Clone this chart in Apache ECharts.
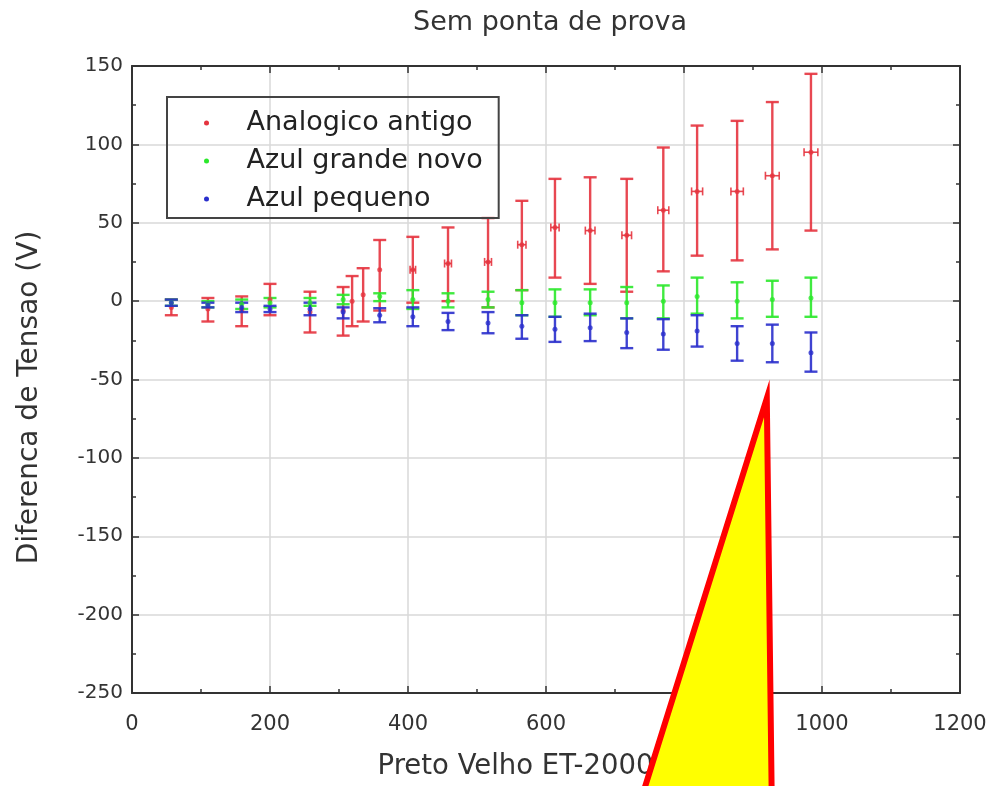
<!DOCTYPE html>
<html>
<head>
<meta charset="utf-8">
<script src="https://cdn.jsdelivr.net/npm/echarts@6/dist/echarts.min.js"></script>
<style>
  html, body { margin: 0; padding: 0; background: #fff; }
  #chart { width: 998px; height: 786px; }
</style>
</head>
<body>
<div id="chart"></div>
<script>
// series names
const seriesNames = ['Analogico antigo', 'Azul grande novo', 'Azul pequeno'];

// Analogico antigo (red): x, y, lower end, upper end, horizontal error
const redX    = [57, 110, 159, 200, 258, 306, 319, 335, 359, 407, 458, 516, 565, 613, 664, 717, 770, 819, 877, 928, 984];
const redY    = [-4, -5, -6, 1, -7, -6, 0, 4, 20, 20, 24, 25, 36, 47, 45, 42, 58, 70, 70, 80, 95];
const redLow  = [-9, -13, -16, -9, -20, -22, -16, -13, -6, -1, 0, -4, 7, 15, 11, 6, 19, 29, 26, 33, 45];
const redHigh = [1, 2, 3, 11, 6, 9, 16, 21, 39, 41, 47, 53, 64, 78, 79, 78, 98, 112, 115, 127, 145];
const redXErr = [0, 0, 0, 0, 0, 0, 0, 0, 0, 4, 5, 5, 6, 6, 7, 7, 8, 8, 9, 10, 10];

// Azul grande novo (green)
const greenX    = [57, 110, 159, 200, 258, 306, 359, 407, 458, 516, 565, 613, 664, 717, 770, 819, 877, 928, 984];
const greenY    = [-1, -2, -2, -1, -1, 1, 3, 1, 0, 1, -1, -1, -1, -1, 0, 3, 0, 1, 2];
const greenLow  = [-3, -4, -5, -4, -3, -2, 0, -5, -4, -4, -9, -10, -9, -11, -11, -8, -11, -10, -10];
const greenHigh = [1, 0, 1, 2, 2, 4, 5, 7, 5, 6, 7, 7.5, 7.5, 9, 10, 15, 12, 13, 15];

// Azul pequeno (blue)
const blueX    = [57, 110, 159, 200, 258, 306, 359, 407, 458, 516, 565, 613, 664, 717, 770, 819, 877, 928, 984];
const blueY    = [-1, -2.5, -4, -5, -5, -7, -9, -10, -13, -14, -16, -18, -17, -20, -21, -19, -27, -27, -33];
const blueLow  = [-3, -4, -7, -7, -9, -11, -13.5, -16, -18.5, -20.5, -24, -26, -25.5, -30, -31, -29, -38, -39, -45];
const blueHigh = [1, -1, -1, -3, -1, -4, -4.5, -4, -7.5, -7, -9, -10, -8, -11, -11.5, -9, -16, -15, -20];

// yellow pointer annotation, in data units (tip, base left, base right)
const pointerShape = [[920, -62], [742, -312], [927, -312]];

const colors = ['#e5343f', '#2be82b', '#2a2fcc'];
const fontFam = 'DejaVu Sans';

function rows(xs, ys, lo, hi, xe) {
  return xs.map((x, i) => [x, ys[i], lo[i], hi[i], xe ? xe[i] : 0]);
}

function errorBars(color) {
  return function (params, api) {
    const x = api.value(0), y = api.value(1);
    const lo = api.coord([x, api.value(2)]);
    const hi = api.coord([x, api.value(3)]);
    const xe = api.value(4);
    const cap = 6.5;
    const style = { stroke: color, lineWidth: 2.4, fill: null, opacity: 0.9 };
    const kids = [
      { type: 'line', shape: { x1: lo[0], y1: lo[1], x2: hi[0], y2: hi[1] }, style: style },
      { type: 'line', shape: { x1: lo[0] - cap, y1: lo[1], x2: lo[0] + cap, y2: lo[1] }, style: style },
      { type: 'line', shape: { x1: hi[0] - cap, y1: hi[1], x2: hi[0] + cap, y2: hi[1] }, style: style }
    ];
    if (xe) {
      const l = api.coord([x - xe, y]), r = api.coord([x + xe, y]);
      const thin = { stroke: color, lineWidth: 1.6, fill: null, opacity: 0.9 };
      kids.push({ type: 'line', shape: { x1: l[0], y1: l[1], x2: r[0], y2: r[1] }, style: thin });
      kids.push({ type: 'line', shape: { x1: l[0], y1: l[1] - 4, x2: l[0], y2: l[1] + 4 }, style: thin });
      kids.push({ type: 'line', shape: { x1: r[0], y1: r[1] - 4, x2: r[0], y2: r[1] + 4 }, style: thin });
    }
    return { type: 'group', children: kids };
  };
}

const datasets = [
  rows(redX, redY, redLow, redHigh, redXErr),
  rows(greenX, greenY, greenLow, greenHigh),
  rows(blueX, blueY, blueLow, blueHigh)
];

const series = [];
datasets.forEach((d, i) => {
  series.push({
    name: seriesNames[i],
    type: 'custom',
    renderItem: errorBars(colors[i]),
    encode: { x: 0, y: 1 },
    data: d,
    itemStyle: { color: colors[i] },
    z: 2 + i
  });
  series.push({
    name: seriesNames[i],
    type: 'scatter',
    symbol: 'circle',
    symbolSize: 5,
    data: d.map(r => [r[0], r[1]]),
    itemStyle: { color: colors[i] },
    z: 3 + i
  });
});

const axisLineStyle = { show: true, onZero: false, lineStyle: { color: '#333', width: 2 } };
const tickStyle = { inside: true, length: 7, lineStyle: { color: '#333', width: 1.5 } };
const minorStyle = { show: true, splitNumber: 2, length: 4, lineStyle: { color: '#333', width: 1.5 } };

const chart = echarts.init(document.getElementById('chart'));
chart.setOption({
  animation: false,
  backgroundColor: '#fff',
  title: {
    text: 'Sem ponta de prova',
    left: 408,
    top: 4,
    textStyle: { fontFamily: fontFam, fontSize: 27, fontWeight: 'normal', color: '#333' }
  },
  legend: {
    orient: 'vertical',
    left: 167,
    top: 97,
    padding: [11, 16, 4, 37],
    itemGap: 8,
    itemWidth: 36,
    itemHeight: 5,
    borderColor: '#444',
    borderWidth: 2,
    data: seriesNames.map(n => ({ name: n, icon: 'circle' })),
    textStyle: { fontFamily: fontFam, fontSize: 27, color: '#222', lineHeight: 30, padding: [0, 0, 0, 17] }
  },
  grid: { left: 132, right: 38, top: 66, bottom: 93 },
  xAxis: [{
    type: 'value',
    min: 0, max: 1200, interval: 200,
    name: 'Preto Velho ET-2000 (V)',
    nameLocation: 'middle',
    nameGap: 60,
    nameTextStyle: { fontFamily: fontFam, fontSize: 27.5, color: '#333', padding: [0, 12, 0, 0] },
    axisLine: axisLineStyle,
    axisTick: tickStyle,
    minorTick: minorStyle,
    axisLabel: { fontFamily: fontFam, fontSize: 21, color: '#333', margin: 21, formatter: v => String(v) },
    splitLine: { show: true, lineStyle: { color: '#d8d8d8', width: 1.5 } }
  }, {
    type: 'value',
    position: 'top',
    min: 0, max: 1200, interval: 200,
    axisLine: axisLineStyle,
    axisTick: tickStyle,
    minorTick: minorStyle,
    axisLabel: { show: false },
    splitLine: { show: false }
  }],
  yAxis: [{
    type: 'value',
    min: -250, max: 150, interval: 50,
    name: 'Diferenca de Tensao (V)',
    nameLocation: 'middle',
    nameGap: 88,
    nameTextStyle: { fontFamily: fontFam, fontSize: 28, color: '#333', padding: [0, 36, 0, 0] },
    axisLine: axisLineStyle,
    axisTick: tickStyle,
    minorTick: minorStyle,
    axisLabel: { fontFamily: fontFam, fontSize: 20, color: '#333', margin: 9 },
    splitLine: { show: true, lineStyle: { color: '#d8d8d8', width: 1.5 } }
  }, {
    type: 'value',
    position: 'right',
    min: -250, max: 150, interval: 50,
    axisLine: axisLineStyle,
    axisTick: tickStyle,
    minorTick: minorStyle,
    axisLabel: { show: false },
    splitLine: { show: false }
  }],
  series: series
});

// yellow pointer drawn on top, positioned through the chart's own scales
const pts = pointerShape.map(p => chart.convertToPixel({ xAxisIndex: 0, yAxisIndex: 0 }, p));
chart.setOption({
  graphic: [{
    type: 'polygon',
    z: 100,
    shape: { points: pts },
    style: { fill: '#ffff00', stroke: '#ff0000', lineWidth: 6, lineJoin: 'miter' }
  }]
});
</script>
</body>
</html>
